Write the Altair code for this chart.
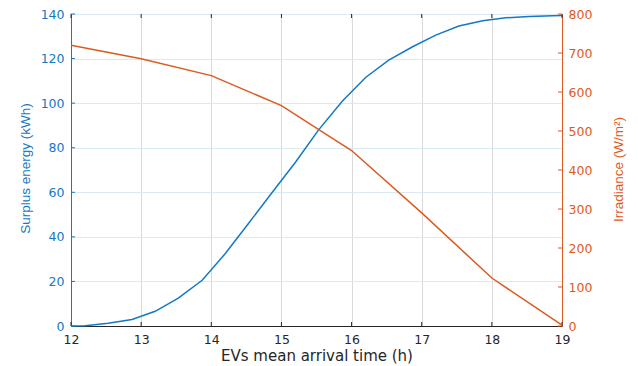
import altair as alt
import pandas as pd

# EV mean arrival time (h) and surplus PV energy (kWh)
arrival_time = [12.0, 12.2, 12.53, 12.87, 13.2, 13.53, 13.87, 14.2, 14.53, 14.87, 15.2, 15.53,
                15.87, 16.2, 16.53, 16.87, 17.2, 17.53, 17.87, 18.2, 18.53, 18.87, 19.0]
surplus_kwh = [0.0, 0.1, 1.2, 2.9, 6.6, 12.5, 20.5, 32.5, 46.0, 60.0, 73.5, 88.0,
               101.0, 111.5, 119.3, 125.3, 130.5, 134.6, 137.0, 138.3, 138.9, 139.2, 139.3]

# Hourly irradiance (W/m^2)
irr_time = [12, 13, 14, 15, 16, 17, 18, 19]
irradiance = [720, 685, 642, 565, 450, 290, 123, 2]

# Tick positions
x_ticks = [12, 13, 14, 15, 16, 17, 18, 19]
surplus_ticks = [0, 20, 40, 60, 80, 100, 120, 140]
irr_ticks = [0, 100, 200, 300, 400, 500, 600, 700, 800]

BLUE = "#1478c4"
ORANGE = "#dc5a20"
DARK = "#262626"
W, H = 491, 312
TICK = 4

surplus_df = pd.DataFrame({"hour": arrival_time, "surplus": surplus_kwh})
irr_df = pd.DataFrame({"hour": irr_time, "irr": irradiance})
xt_df = pd.DataFrame({"hour": x_ticks})
st_df = pd.DataFrame({"surplus": surplus_ticks})
it_df = pd.DataFrame({"irr": irr_ticks})

x_scale = alt.Scale(domain=[12, 19], nice=False, zero=False)
x_axis = alt.Axis(
    values=x_ticks, grid=True, gridColor="#dadada", ticks=False,
    domainColor=DARK, labelColor=DARK, labelFont="DejaVu Sans", labelFontSize=12.5,
    labelPadding=7, labelFlush=False, labelOverlap=False,
    title="EVs mean arrival time (h)", titleFont="DejaVu Sans", titleFontSize=15,
    titleFontWeight="normal", titleColor=DARK, titlePadding=3,
)
x_enc = alt.X("hour:Q", scale=x_scale, axis=x_axis)

s_scale = alt.Scale(domain=[0, 140], nice=False)
s_axis = alt.Axis(
    orient="left", values=surplus_ticks, grid=True, gridColor="#d9eaf5", ticks=False,
    domainColor=BLUE, labelColor=BLUE, labelFont="DejaVu Sans", labelFontSize=12.5,
    labelPadding=7, labelFlush=False,
    title="Surplus energy (kWh)", titleColor=BLUE, titleFont="Liberation Sans",
    titleFontSize=13.5, titleFontWeight="normal", titleAngle=270,
    titleX=-46, titleY=154, titleAlign="center", titleBaseline="middle",
)
s_enc = alt.Y("surplus:Q", scale=s_scale, axis=s_axis)

i_scale = alt.Scale(domain=[0, 800], nice=False)
i_axis = alt.Axis(
    orient="right", values=irr_ticks, grid=False, ticks=False,
    domainColor=ORANGE, labelColor=ORANGE, labelFont="DejaVu Sans", labelFontSize=12.5,
    labelPadding=6, labelFlush=False,
    title="Irradiance (W/m²)", titleColor=ORANGE, titleFont="Liberation Sans",
    titleFontSize=13.5, titleFontWeight="normal", titleAngle=270,
    titleX=56, titleY=155, titleAlign="center", titleBaseline="middle",
)
i_enc = alt.Y("irr:Q", scale=i_scale, axis=i_axis)

surplus_line = alt.Chart(surplus_df).mark_line(color=BLUE, strokeWidth=1.5).encode(
    x=x_enc, y=s_enc
)
# inward ticks: bottom, top, left
bottom_ticks = alt.Chart(xt_df).mark_rule(color=DARK, strokeWidth=1).encode(
    x=x_enc, y=alt.value(H), y2=alt.value(H - TICK)
)
top_ticks = alt.Chart(xt_df).mark_rule(color=DARK, strokeWidth=1).encode(
    x=x_enc, y=alt.value(0), y2=alt.value(TICK)
)
left_ticks = alt.Chart(st_df).mark_rule(color=BLUE, strokeWidth=1).encode(
    y=s_enc, x=alt.value(0), x2=alt.value(TICK)
)
blue_group = alt.layer(surplus_line, bottom_ticks, top_ticks, left_ticks)

irr_line = alt.Chart(irr_df).mark_line(color=ORANGE, strokeWidth=1.5).encode(
    x=x_enc, y=i_enc
)
right_ticks = alt.Chart(it_df).mark_rule(color=ORANGE, strokeWidth=1).encode(
    y=i_enc, x=alt.value(W), x2=alt.value(W - TICK)
)
orange_group = alt.layer(irr_line, right_ticks)

chart = (
    alt.layer(blue_group, orange_group)
    .resolve_scale(y="independent")
    .properties(
        width=W, height=H,
        autosize=alt.AutoSizeParams(type="none"),
        padding={"left": 71, "top": 14, "right": 76, "bottom": 40},
        background="white",
    )
    .configure_view(stroke=DARK, strokeWidth=1)
)

chart.save("out.html", embed_options={"renderer": "svg", "actions": False})
